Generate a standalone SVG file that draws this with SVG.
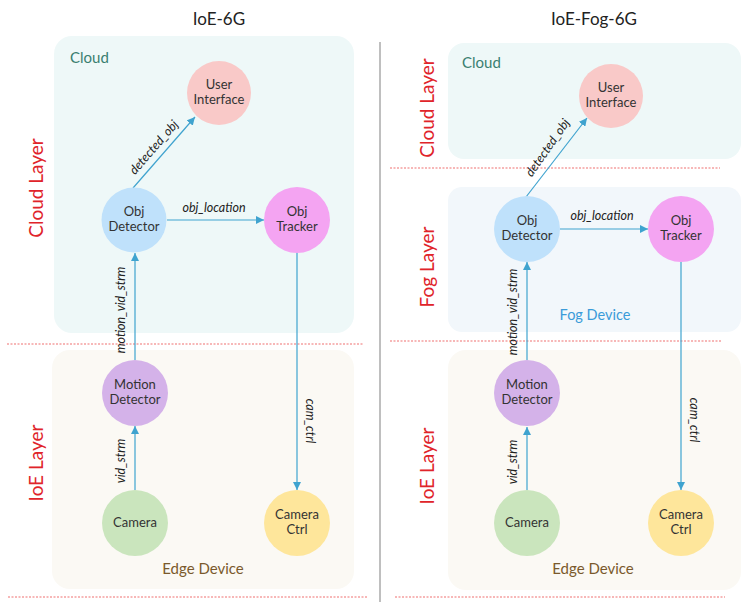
<svg xmlns="http://www.w3.org/2000/svg" width="748" height="606" viewBox="0 0 748 606">
<defs>
<marker id="ah" viewBox="0 0 10 10" refX="10" refY="5" markerWidth="8" markerHeight="8" markerUnits="userSpaceOnUse" orient="auto">
<path d="M0,0 L10,5 L0,10 z" fill="#3fa3cf"/>
</marker>
<style>
text{font-family:Lato,"Open Sans","Liberation Sans",sans-serif}
.title{font-size:17px;fill:#222;text-anchor:middle}
.nl{font-size:13px;fill:#333;text-anchor:middle}
.el{font-size:12.5px;fill:#222;font-style:italic;text-anchor:middle}
.layer{font-size:19px;fill:#e0242a;text-anchor:middle}
.cl{stroke:#3fa3cf;stroke-width:1.2}
.dash{stroke:#f07070;stroke-width:1.2;stroke-dasharray:2,1.5}
.cloud{fill:#eef8f8}
.fog{fill:#f2f7fb}
.edge{fill:#fbf9f4}
</style>
</defs>
<rect width="748" height="606" fill="#ffffff"/>
<line x1="380" y1="42" x2="380" y2="602" stroke="#aaaaaa" stroke-width="1.5"/>
<text class="title" x="219" y="25">IoE-6G</text>
<text class="title" x="594" y="25">IoE-Fog-6G</text>
<g id="left-cloud-box">
<rect class="cloud" x="54" y="36" width="300" height="297" rx="18"/>
<text x="70" y="63" font-size="15" fill="#3a7f70">Cloud</text>
</g>
<g id="left-edge-box">
<rect class="edge" x="52" y="350" width="302" height="239" rx="18"/>
<text x="203" y="574" font-size="15" fill="#7a5a2c" text-anchor="middle">Edge Device</text>
</g>
<line class="dash" x1="7" y1="344" x2="364" y2="344"/>
<line class="dash" x1="8" y1="597" x2="367" y2="597"/>
<text class="layer" transform="translate(43,188) rotate(-90)">Cloud Layer</text>
<text class="layer" transform="translate(43,463) rotate(-90)">IoE Layer</text>
<g id="right-cloud-box">
<rect class="cloud" x="448" y="43" width="293" height="116" rx="16"/>
<text x="462" y="68" font-size="15" fill="#3a7f70">Cloud</text>
</g>
<g id="right-fog-box">
<rect class="fog" x="448" y="187" width="293" height="145" rx="14"/>
<text x="595" y="320" font-size="14.5" fill="#3b9bd9" text-anchor="middle">Fog Device</text>
</g>
<g id="right-edge-box">
<rect class="edge" x="448" y="350" width="293" height="240" rx="18"/>
<text x="593" y="574" font-size="15" fill="#7a5a2c" text-anchor="middle">Edge Device</text>
</g>
<line class="dash" x1="390" y1="168" x2="720" y2="168"/>
<line class="dash" x1="390" y1="341" x2="722" y2="341"/>
<line class="dash" x1="395" y1="597" x2="725" y2="597"/>
<text class="layer" transform="translate(434,108) rotate(-90)">Cloud Layer</text>
<text class="layer" transform="translate(434,267) rotate(-90)">Fog Layer</text>
<text class="layer" transform="translate(434,466) rotate(-90)">IoE Layer</text>
<g id="connectors">
<line class="cl" x1="133" y1="188" x2="195" y2="117" marker-end="url(#ah)"/>
<line class="cl" x1="167" y1="220" x2="264" y2="220" marker-end="url(#ah)"/>
<line class="cl" x1="135" y1="360" x2="135" y2="253" marker-end="url(#ah)"/>
<line class="cl" x1="135" y1="490" x2="135" y2="426" marker-end="url(#ah)"/>
<line class="cl" x1="297" y1="252" x2="297" y2="490" marker-end="url(#ah)"/>
<line class="cl" x1="526" y1="197" x2="587" y2="118" marker-end="url(#ah)"/>
<line class="cl" x1="560" y1="229" x2="648" y2="229" marker-end="url(#ah)"/>
<line class="cl" x1="527" y1="360" x2="527" y2="262" marker-end="url(#ah)"/>
<line class="cl" x1="527" y1="490" x2="527" y2="427" marker-end="url(#ah)"/>
<line class="cl" x1="681" y1="262" x2="681" y2="490" marker-end="url(#ah)"/>
</g>
<g id="connector-labels">
<text class="el" transform="translate(157,150) rotate(-49)">detected_obj</text>
<text class="el" x="214" y="212">obj_location</text>
<text class="el" transform="translate(125,310) rotate(-90)">motion_vid_strm</text>
<text class="el" transform="translate(125,461) rotate(-90)">vid_strm</text>
<text class="el" transform="translate(306,421) rotate(90)">cam_ctrl</text>
<text class="el" transform="translate(551,150) rotate(-55)">detected_obj</text>
<text class="el" x="602" y="220">obj_location</text>
<text class="el" transform="translate(517,312) rotate(-90)">motion_vid_strm</text>
<text class="el" transform="translate(517,462) rotate(-90)">vid_strm</text>
<text class="el" transform="translate(690,420) rotate(90)">cam_ctrl</text>
</g>
<g id="l-ui"><circle cx="219" cy="93" r="32" fill="#f9c9c8"/><text class="nl" x="219" y="89">User</text><text class="nl" x="219" y="104">Interface</text></g>
<g id="l-objdet"><circle cx="134" cy="220" r="32.5" fill="#bfe1fb"/><text class="nl" x="134" y="216">Obj</text><text class="nl" x="134" y="231">Detector</text></g>
<g id="l-objtrk"><circle cx="297" cy="220" r="33" fill="#f4a4f2"/><text class="nl" x="297" y="216">Obj</text><text class="nl" x="297" y="231">Tracker</text></g>
<g id="l-motion"><circle cx="135" cy="393" r="33" fill="#d4b2e9"/><text class="nl" x="135" y="389">Motion</text><text class="nl" x="135" y="404">Detector</text></g>
<g id="l-camera"><circle cx="135" cy="523" r="33" fill="#cae5bd"/><text class="nl" x="135" y="527">Camera</text></g>
<g id="l-camctrl"><circle cx="297" cy="523" r="33" fill="#fee69b"/><text class="nl" x="297" y="519">Camera</text><text class="nl" x="297" y="534">Ctrl</text></g>
<g id="r-ui"><circle cx="611" cy="96" r="32" fill="#f9c9c8"/><text class="nl" x="611" y="92">User</text><text class="nl" x="611" y="107">Interface</text></g>
<g id="r-objdet"><circle cx="527" cy="229" r="33" fill="#bfe1fb"/><text class="nl" x="527" y="225">Obj</text><text class="nl" x="527" y="240">Detector</text></g>
<g id="r-objtrk"><circle cx="681" cy="229" r="33" fill="#f4a4f2"/><text class="nl" x="681" y="225">Obj</text><text class="nl" x="681" y="240">Tracker</text></g>
<g id="r-motion"><circle cx="527" cy="393" r="33" fill="#d4b2e9"/><text class="nl" x="527" y="389">Motion</text><text class="nl" x="527" y="404">Detector</text></g>
<g id="r-camera"><circle cx="527" cy="523" r="33" fill="#cae5bd"/><text class="nl" x="527" y="527">Camera</text></g>
<g id="r-camctrl"><circle cx="681" cy="523" r="33" fill="#fee69b"/><text class="nl" x="681" y="519">Camera</text><text class="nl" x="681" y="534">Ctrl</text></g>
</svg>
